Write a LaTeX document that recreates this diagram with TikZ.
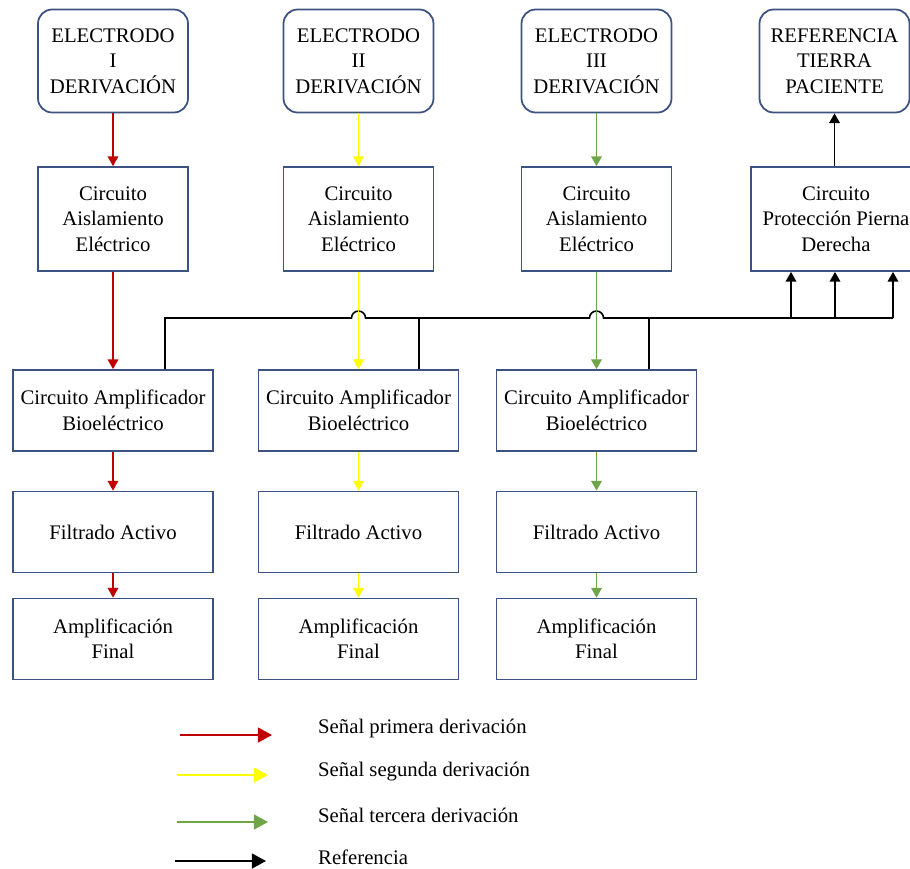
\documentclass[tikz,border=0pt]{standalone}
\usepackage{fontspec}
\setmainfont{Liberation Serif}
\newfontfamily\tnr{Liberation Serif}
\usetikzlibrary{arrows.meta}
\definecolor{borde}{RGB}{60,82,128}
\definecolor{rojo}{RGB}{192,0,0}
\definecolor{amarillo}{RGB}{255,255,0}
\definecolor{verde}{RGB}{112,165,71}

\tikzstyle{block}=[draw=borde, line width=1pt, fill=white, align=center, inner sep=1pt, font=\tnr\fontsize{11.8}{14.5}\selectfont]
\tikzstyle{elec}=[block, rounded corners=8pt, minimum width=3cm, minimum height=2.06cm]
\tikzstyle{ais}=[block, minimum width=3cm, minimum height=2.08cm]
\tikzstyle{amp}=[block, minimum width=4cm, minimum height=1.62cm]
\tikzstyle{sig}=[line width=0.8pt, -{Triangle[length=5.5pt,width=6pt]}]
\tikzstyle{ley}=[line width=0.9pt, -{Triangle[length=8pt,width=8.5pt]}]
\tikzstyle{txt}=[anchor=west, font=\tnr\fontsize{11.8}{14.5}\selectfont]

\begin{document}
\begin{tikzpicture}[x=0.02cm, y=-0.02cm]
    \useasboundingbox (0,0) rectangle (910,869);

    % electrodos
    \node[elec] (e1)  at (113, 61)   {ELECTRODO\\I\\DERIVACIÓN};
    \node[elec] (e2)  at (358.5, 61) {ELECTRODO\\II\\DERIVACIÓN};
    \node[elec] (e3)  at (596.5, 61) {ELECTRODO\\III\\DERIVACIÓN};
    \node[elec] (ref) at (834.5, 61) {REFERENCIA\\TIERRA\\PACIENTE};

    \node[ais] (ais1) at (113, 219)   {Circuito\\Aislamiento\\Eléctrico};
    \node[ais] (ais2) at (358.5, 219) {Circuito\\Aislamiento\\Eléctrico};
    \node[ais] (ais3) at (596.5, 219) {Circuito\\Aislamiento\\Eléctrico};
    \node[ais, minimum width=3.4cm] (prot) at (836, 219) {Circuito\\Protección Pierna\\Derecha};

    \node[amp] (amp1) at (113, 410.5)   {Circuito Amplificador\\Bioeléctrico};
    \node[amp] (amp2) at (358.5, 410.5) {Circuito Amplificador\\Bioeléctrico};
    \node[amp] (amp3) at (596.5, 410.5) {Circuito Amplificador\\Bioeléctrico};

    \node[amp] (fil1) at (113, 532)   {Filtrado Activo};
    \node[amp] (fil2) at (358.5, 532) {Filtrado Activo};
    \node[amp] (fil3) at (596.5, 532) {Filtrado Activo};

    \node[amp] (fin1) at (113, 639)   {Amplificación\\Final};
    \node[amp] (fin2) at (358.5, 639) {Amplificación\\Final};
    \node[amp] (fin3) at (596.5, 639) {Amplificación\\Final};

    % bus de referencia
    \coordinate (d1) at (165, 318);
    \coordinate (d2) at (419, 318);
    \coordinate (d3) at (649, 318);
    \coordinate (r1) at (791, 318);
    \coordinate (r2) at (835, 318);
    \coordinate (r3) at (893, 318);
    \coordinate (h2) at (ais2.south |- d1);
    \coordinate (h3) at (ais3.south |- d1);

    \draw[line width=0.9pt] (amp1.north -| d1) -- (d1)
        -- ([xshift=-0.14cm]h2) arc[start angle=180, end angle=0, radius=0.14cm]
        -- ([xshift=-0.14cm]h3) arc[start angle=180, end angle=0, radius=0.14cm]
        -- (r3);
    \draw[line width=0.9pt] (amp2.north -| d2) -- (d2);
    \draw[line width=0.9pt] (amp3.north -| d3) -- (d3);
    \draw[sig] (r1) -- (r1 |- prot.south);
    \draw[sig] (r2) -- (r2 |- prot.south);
    \draw[sig] (r3) -- (r3 |- prot.south);
    \draw[sig, line width=0.9pt] (ref.south |- prot.north) -- (ref.south);

    % senales
    \draw[sig, rojo] (e1) -- (ais1);
    \draw[sig, rojo] (ais1) -- (amp1);
    \draw[sig, rojo] (amp1) -- (fil1);
    \draw[sig, rojo] (fil1) -- (fin1);
    \draw[sig, amarillo] (e2) -- (ais2);
    \draw[sig, amarillo] (ais2) -- (amp2);
    \draw[sig, amarillo] (amp2) -- (fil2);
    \draw[sig, amarillo] (fil2) -- (fin2);
    \draw[sig, verde] (e3) -- (ais3);
    \draw[sig, verde] (ais3) -- (amp3);
    \draw[sig, verde] (amp3) -- (fil3);
    \draw[sig, verde] (fil3) -- (fin3);

    % leyenda
    \coordinate (l1a) at (180, 735); \coordinate (l1b) at (272, 735);
    \coordinate (l2a) at (177, 775); \coordinate (l2b) at (268, 775);
    \coordinate (l3a) at (177, 822); \coordinate (l3b) at (268, 822);
    \coordinate (l4a) at (175, 861); \coordinate (l4b) at (266, 861);
    \draw[ley, rojo] (l1a) -- (l1b);
    \draw[ley, amarillo] (l2a) -- (l2b);
    \draw[ley, verde] (l3a) -- (l3b);
    \draw[ley] (l4a) -- (l4b);
    \node[txt] (t1) at (312, 728) {Señal primera derivación};
    \node[txt] (t2) at (312, 772) {Señal segunda derivación};
    \node[txt] (t3) at (312, 815) {Señal tercera derivación};
    \node[txt] (t4) at (312, 857) {Referencia};
\end{tikzpicture}
\end{document}
